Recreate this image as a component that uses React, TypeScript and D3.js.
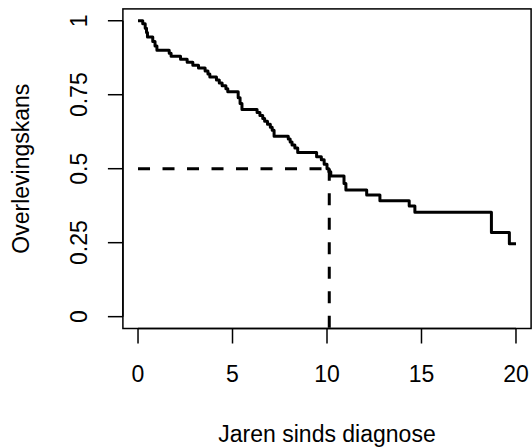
import React, { useEffect, useRef } from "react";
import * as d3 from "d3";

// survival curve (Kaplan-Meier)
const eventTimes: number[] = [
  0.25, 0.38, 0.45, 0.5, 0.78, 0.9, 1.0, 1.65, 1.75, 2.25, 2.6, 2.9, 3.2,
  3.55, 3.7, 3.8, 4.15, 4.3, 4.45, 4.65, 4.75, 5.3, 5.4, 5.5, 6.3, 6.45, 6.6,
  6.7, 6.85, 7.0, 7.1, 7.2, 7.95, 8.05, 8.15, 8.3, 8.45, 9.45, 9.7, 9.85,
  10.0, 10.1, 10.2, 10.9, 11.0, 12.1, 12.8, 14.35, 14.65, 18.7, 19.65,
];
const survival: number[] = [
  0.99, 0.975, 0.96, 0.945, 0.93, 0.915, 0.9, 0.89, 0.88, 0.87, 0.86, 0.85,
  0.84, 0.83, 0.82, 0.81, 0.8, 0.79, 0.78, 0.77, 0.76, 0.74, 0.72, 0.7, 0.69,
  0.68, 0.67, 0.66, 0.65, 0.64, 0.63, 0.61, 0.6, 0.59, 0.58, 0.57, 0.555,
  0.54, 0.53, 0.515, 0.5, 0.49, 0.475, 0.45, 0.428, 0.411, 0.392, 0.374,
  0.353, 0.284, 0.246,
];
const lastTime = 20;
const medianTime = 10.12;
const medianSurv = 0.5;

const xTicks: number[] = [0, 5, 10, 15, 20];
const yTicks: number[] = [0, 0.25, 0.5, 0.75, 1];
const xLabel = "Jaren sinds diagnose";
const yLabel = "Overlevingskans";

const width = 532;
const height = 447;
const font = "'Liberation Sans', Arial, Helvetica, sans-serif";
const fontSize = 23;

export default function App() {
  const ref = useRef<SVGSVGElement>(null);

  useEffect(() => {
    const svg = d3.select(ref.current);
    svg.selectAll("*").remove();

    // R style: 4% extension of the data range
    const x = d3.scaleLinear().domain([-0.8, 20.8]).range([122.9, 531.1]);
    const y = d3.scaleLinear().domain([-0.04, 1.04]).range([328.5, 8.9]);

    // plot box
    svg
      .append("rect")
      .attr("x", x(-0.8))
      .attr("y", y(1.04))
      .attr("width", x(20.8) - x(-0.8))
      .attr("height", y(-0.04) - y(1.04))
      .attr("fill", "none")
      .attr("stroke", "#000")
      .attr("stroke-width", 1.5);

    const tickLen = 15;

    // x axis
    const xAxis = svg.append("g");
    xAxis
      .append("line")
      .attr("x1", x(xTicks[0]))
      .attr("x2", x(xTicks[xTicks.length - 1]))
      .attr("y1", y(-0.04))
      .attr("y2", y(-0.04))
      .attr("stroke", "#000")
      .attr("stroke-width", 1.5);
    xAxis
      .selectAll(".tick")
      .data(xTicks)
      .enter()
      .append("line")
      .attr("x1", (d) => x(d))
      .attr("x2", (d) => x(d))
      .attr("y1", y(-0.04))
      .attr("y2", y(-0.04) + tickLen)
      .attr("stroke", "#000")
      .attr("stroke-width", 1.5);
    xAxis
      .selectAll(".lbl")
      .data(xTicks)
      .enter()
      .append("text")
      .attr("x", (d) => x(d))
      .attr("y", 382)
      .attr("text-anchor", "middle")
      .style("font-family", font)
      .style("font-size", fontSize + "px")
      .text((d) => String(d));

    // y axis
    const yAxis = svg.append("g");
    yAxis
      .append("line")
      .attr("x1", x(-0.8))
      .attr("x2", x(-0.8))
      .attr("y1", y(yTicks[0]))
      .attr("y2", y(yTicks[yTicks.length - 1]))
      .attr("stroke", "#000")
      .attr("stroke-width", 1.5);
    yAxis
      .selectAll(".tick")
      .data(yTicks)
      .enter()
      .append("line")
      .attr("x1", x(-0.8))
      .attr("x2", x(-0.8) - tickLen)
      .attr("y1", (d) => y(d))
      .attr("y2", (d) => y(d))
      .attr("stroke", "#000")
      .attr("stroke-width", 1.5);
    yAxis
      .selectAll(".lbl")
      .data(yTicks)
      .enter()
      .append("text")
      .attr("transform", (d) => `translate(87, ${y(d)}) rotate(-90)`)
      .attr("text-anchor", "middle")
      .style("font-family", font)
      .style("font-size", fontSize + "px")
      .text((d) => String(d));

    // axis titles
    svg
      .append("text")
      .attr("x", (x(-0.8) + x(20.8)) / 2)
      .attr("y", 442)
      .attr("text-anchor", "middle")
      .style("font-family", font)
      .style("font-size", fontSize + "px")
      .text(xLabel);
    svg
      .append("text")
      .attr("transform", `translate(29, ${(y(-0.04) + y(1.04)) / 2}) rotate(-90)`)
      .attr("text-anchor", "middle")
      .style("font-family", font)
      .style("font-size", fontSize + "px")
      .text(yLabel);

    // survival curve
    const pts: [number, number][] = [[0, 1]];
    eventTimes.forEach((t, i) => pts.push([t, survival[i]]));
    pts.push([lastTime, survival[survival.length - 1]]);

    const line = d3
      .line<[number, number]>()
      .x((d) => x(d[0]))
      .y((d) => y(d[1]))
      .curve(d3.curveStepAfter);

    svg
      .append("path")
      .datum(pts)
      .attr("fill", "none")
      .attr("stroke", "#000")
      .attr("stroke-width", 3)
      .attr("stroke-linejoin", "round")
      .attr("d", line);

    // median lines
    svg
      .append("line")
      .attr("x1", x(0))
      .attr("x2", x(medianTime))
      .attr("y1", y(medianSurv))
      .attr("y2", y(medianSurv))
      .attr("stroke", "#000")
      .attr("stroke-width", 3)
      .attr("stroke-dasharray", "12,12.5");
    svg
      .append("line")
      .attr("x1", x(medianTime))
      .attr("x2", x(medianTime))
      .attr("y1", y(medianSurv))
      .attr("y2", y(-0.04))
      .attr("stroke", "#000")
      .attr("stroke-width", 3)
      .attr("stroke-dasharray", "12,12.5");
  }, []);

  return (
    <svg
      ref={ref}
      width={width}
      height={height}
      style={{ position: "absolute", left: 0, top: 0, background: "#fff" }}
    />
  );
}
